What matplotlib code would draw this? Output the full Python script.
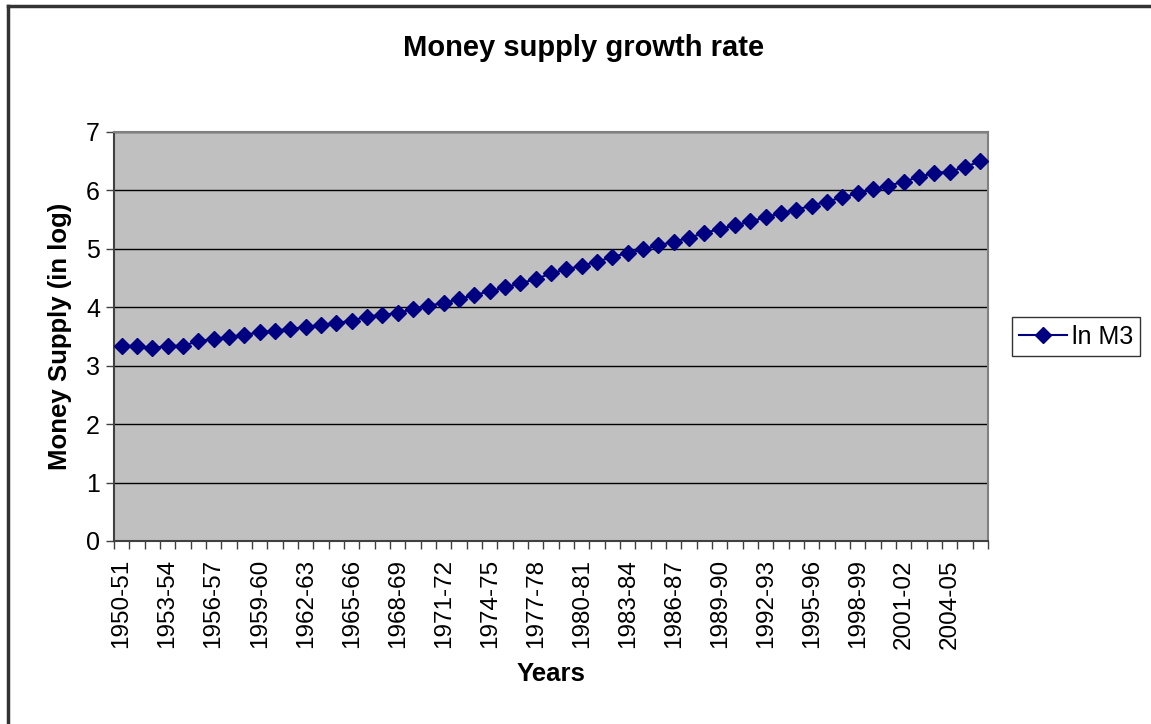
import matplotlib.pyplot as plt
from matplotlib.lines import Line2D
import numpy as np

plt.rcParams['font.family'] = ['Liberation Sans', 'DejaVu Sans']

# Fiscal years 1950-51 .. 2006-07
years = [f"{y}-{str(y + 1)[-2:]}" for y in range(1950, 2007)]
ln_m3 = [3.34, 3.34, 3.30, 3.34, 3.34, 3.42, 3.46, 3.49, 3.53, 3.57,
         3.60, 3.63, 3.66, 3.70, 3.73, 3.77, 3.84, 3.87, 3.90, 3.97,
         4.03, 4.07, 4.14, 4.21, 4.27, 4.34, 4.41, 4.48, 4.58, 4.65,
         4.71, 4.78, 4.86, 4.93, 4.99, 5.06, 5.12, 5.19, 5.27, 5.34,
         5.40, 5.47, 5.54, 5.61, 5.67, 5.74, 5.81, 5.88, 5.95, 6.02,
         6.08, 6.15, 6.23, 6.30, 6.32, 6.40, 6.50]

fig = plt.figure(figsize=(11.51, 7.24), dpi=100)
ax = fig.add_axes([0.099, 0.2528, 0.7594, 0.5649])
ax.set_facecolor('#C0C0C0')

x = np.arange(len(years))
ax.plot(x, ln_m3, color='#000080', lw=1.5, marker='D', markersize=8,
        markerfacecolor='#000080', markeredgecolor='#000080', zorder=3)

ax.set_xlim(-0.5, len(years) - 0.5)
ax.set_ylim(0, 7)
ax.set_yticks(range(0, 8))
ax.yaxis.grid(True, color='black', lw=1)
ax.set_axisbelow(True)

# tick marks on category boundaries, labels on every third category
ax.set_xticks(np.arange(-0.5, len(years)), labels=[])
ax.set_xticks(x[::3], labels=[years[i] for i in x[::3]], minor=True, rotation=90)
ax.tick_params(axis='x', which='major', length=6, width=1, color='#404040', direction='out')
ax.tick_params(axis='x', which='minor', length=0, pad=13, labelsize=17.5)
ax.tick_params(axis='y', length=6, width=1, color='#404040', labelsize=18, pad=4)

for side in ['left', 'bottom']:
    ax.spines[side].set_color('#404040')
    ax.spines[side].set_linewidth(1.5)
for side in ['top', 'right']:
    ax.spines[side].set_color('#808080')
    ax.spines[side].set_linewidth(1.5)

ax.set_xlabel('Years', fontsize=18.5, fontweight='bold', labelpad=10)
ax.set_ylabel('Money Supply (in log)', fontsize=18.5, fontweight='bold', labelpad=10)
fig.text(0.507, 0.934, 'Money supply growth rate', ha='center', va='center',
         fontsize=21, fontweight='bold')

handle = Line2D([], [], color='#000080', lw=1.5, marker='D', markersize=8)
fig.legend([handle], ['ln M3'], loc='center left', bbox_to_anchor=(0.879, 0.535),
           fontsize=18, frameon=True, fancybox=False, edgecolor='black',
           handlelength=1.9, borderpad=0.3, handletextpad=0.2, borderaxespad=0)

# chart-area border (top and left edges visible in the reference)
fig.add_artist(Line2D([0.007, 0.007], [0.0, 0.992], transform=fig.transFigure,
                      color='#333333', lw=2.5))
fig.add_artist(Line2D([0.007, 1.0], [0.992, 0.992], transform=fig.transFigure,
                      color='#333333', lw=2.5))

fig.savefig('out.png', dpi=100)
